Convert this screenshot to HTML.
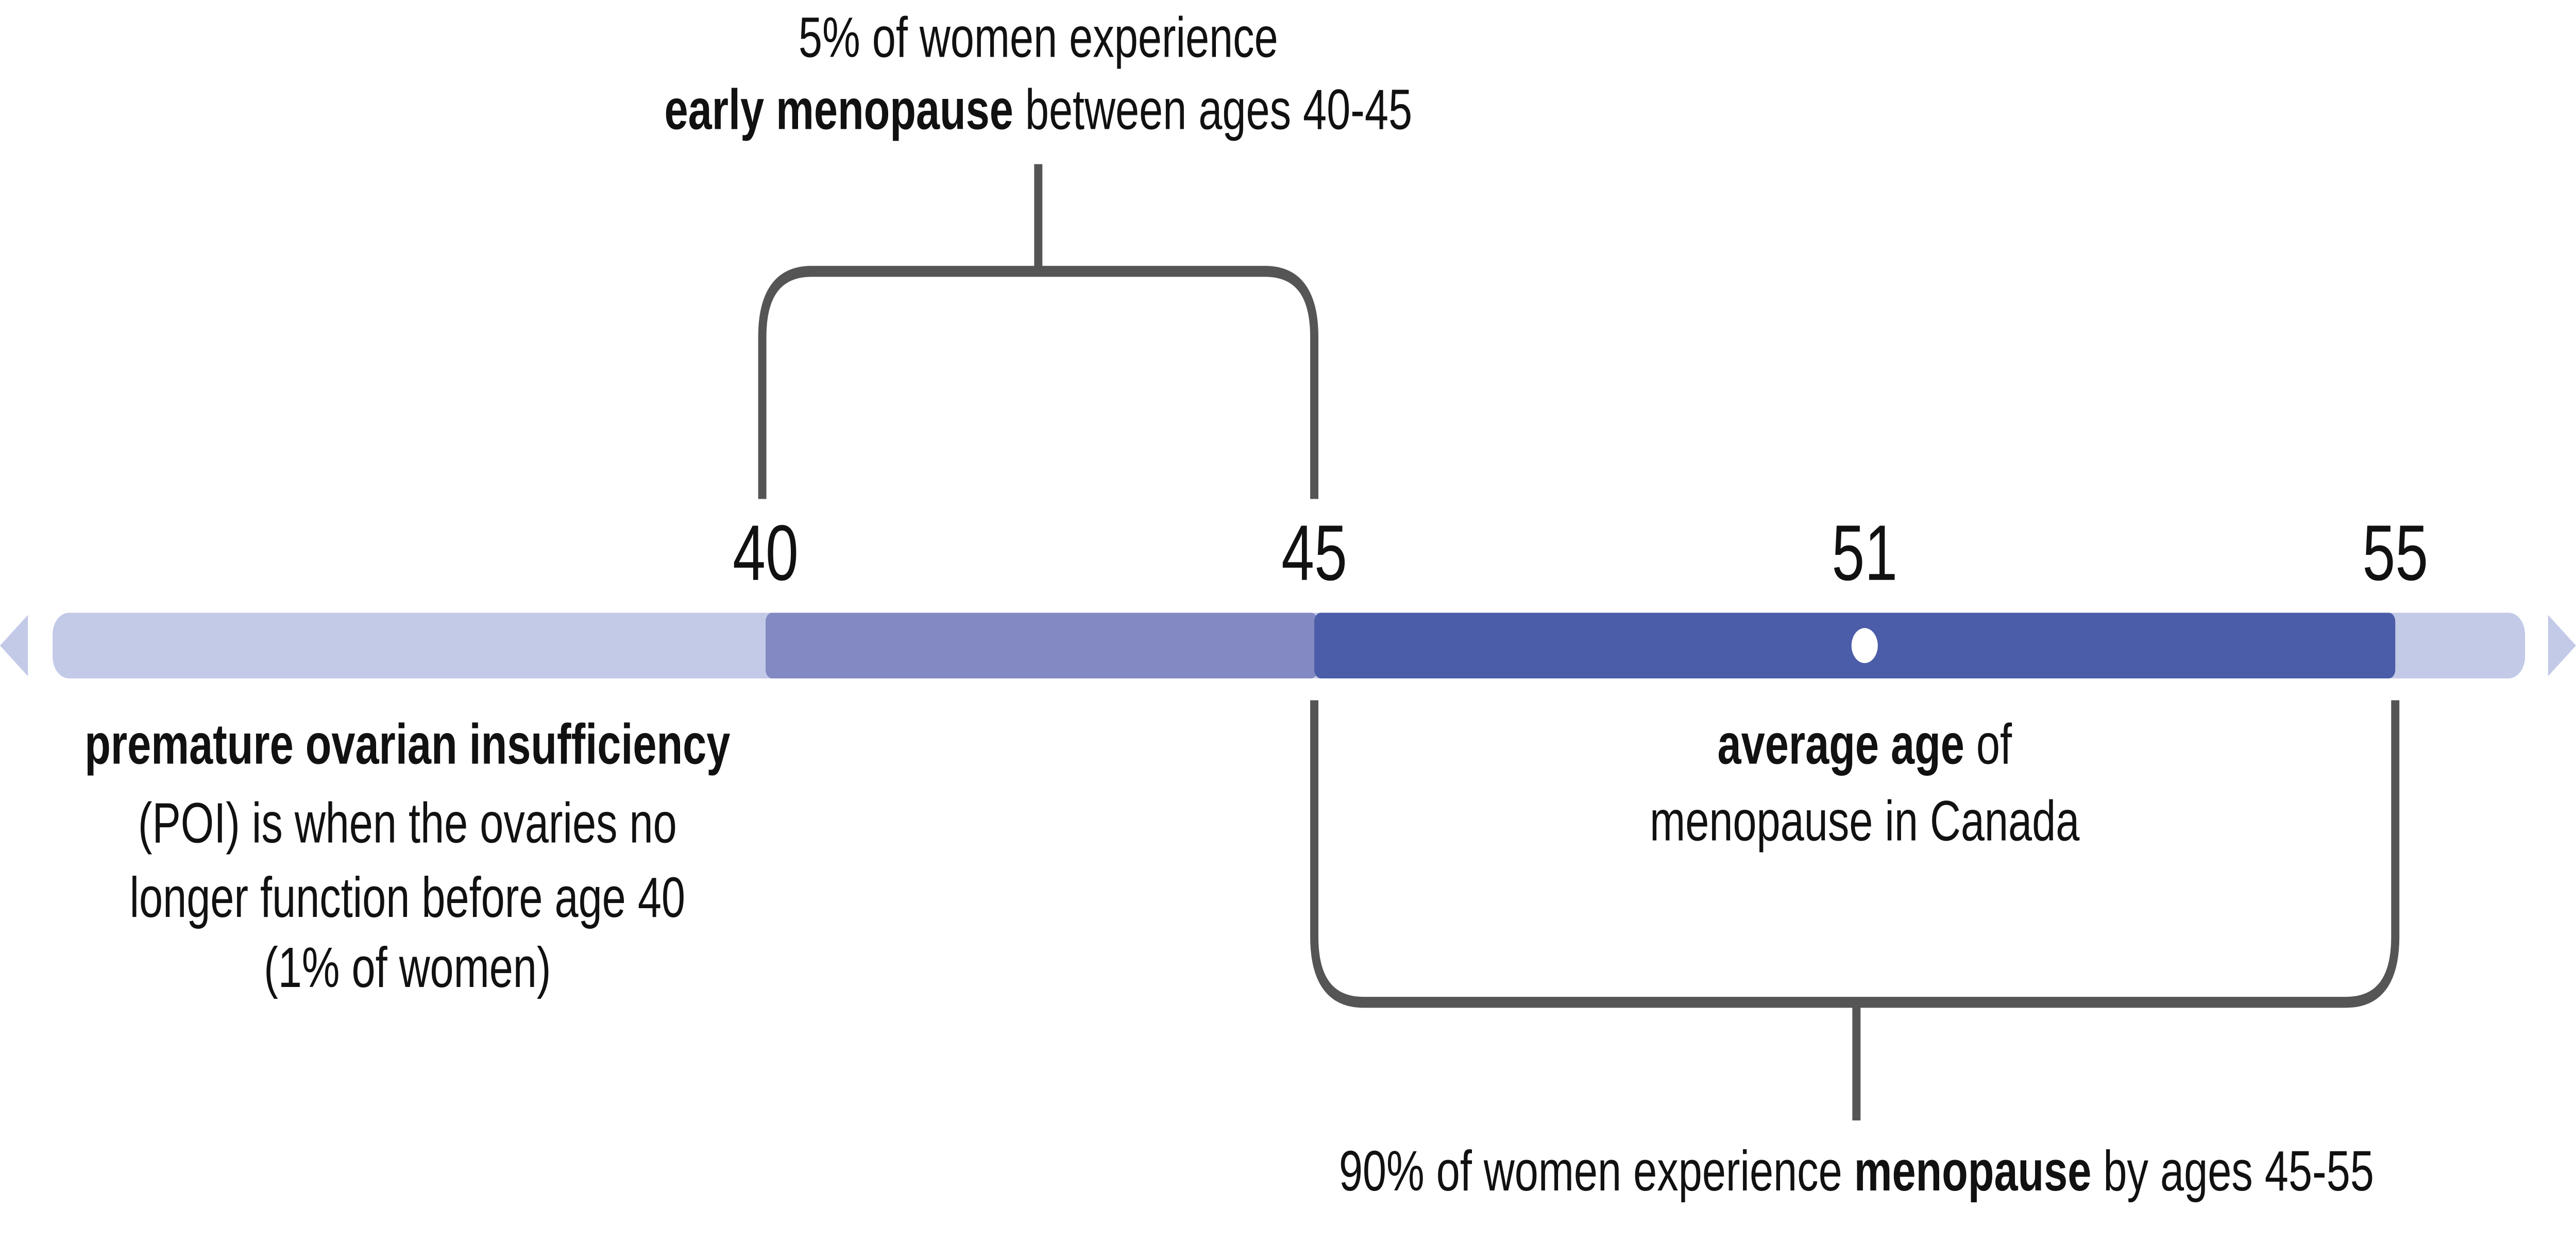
<!DOCTYPE html>
<html><head><meta charset="utf-8"><style>
html,body{margin:0;padding:0;background:#fff;width:100%;height:100%;overflow:hidden}
svg{display:block;width:100vw;height:100vh;position:absolute;left:0;top:0}
text{font-family:"Liberation Sans",sans-serif;fill:#111}
</style></head><body>
<svg viewBox="0 0 1568 568" preserveAspectRatio="none" xmlns="http://www.w3.org/2000/svg">
<polygon points="0,295 17,281 17,309" fill="#c3cae8"/>
<polygon points="1568,295 1551,281 1551,309" fill="#c3cae8"/>
<rect x="32" y="280" width="1505" height="30" rx="10" fill="#c3cae8"/>
<rect x="466" y="280" width="336" height="30" rx="4" fill="#8389c2"/>
<rect x="800" y="280" width="658" height="30" rx="4" fill="#4b5ca8"/>
<circle cx="1135" cy="295" r="8" fill="#fff"/>
<g fill="none" stroke="#555" stroke-width="5">
<path d="M464,228 V154 Q464,124 494,124 H770 Q800,124 800,154 V228"/>
<path d="M632,124 V75"/>
<path d="M800,320 V428 Q800,458 830,458 H1428 Q1458,458 1458,428 V320"/>
<path d="M1130,458 V512"/>
</g>
<g font-size="36" text-anchor="middle">
<text x="466" y="265">40</text>
<text x="800" y="265">45</text>
<text x="1135" y="265">51</text>
<text x="1458" y="265">55</text>
</g>
<g font-size="26" text-anchor="middle">
<text x="632" y="26">5% of women experience</text>
<text x="632" y="59"><tspan font-weight="bold">early menopause</tspan> between ages 40-45</text>
<text x="248" y="349" font-weight="bold">premature ovarian insufficiency</text>
<text x="248" y="385">(POI) is when the ovaries no</text>
<text x="248" y="419">longer function before age 40</text>
<text x="248" y="451">(1% of women)</text>
<text x="1135" y="349"><tspan font-weight="bold">average age</tspan> of</text>
<text x="1135" y="384">menopause in Canada</text>
<text x="1130" y="544">90% of women experience <tspan font-weight="bold">menopause</tspan> by ages 45-55</text>
</g>
</svg>
</body></html>
